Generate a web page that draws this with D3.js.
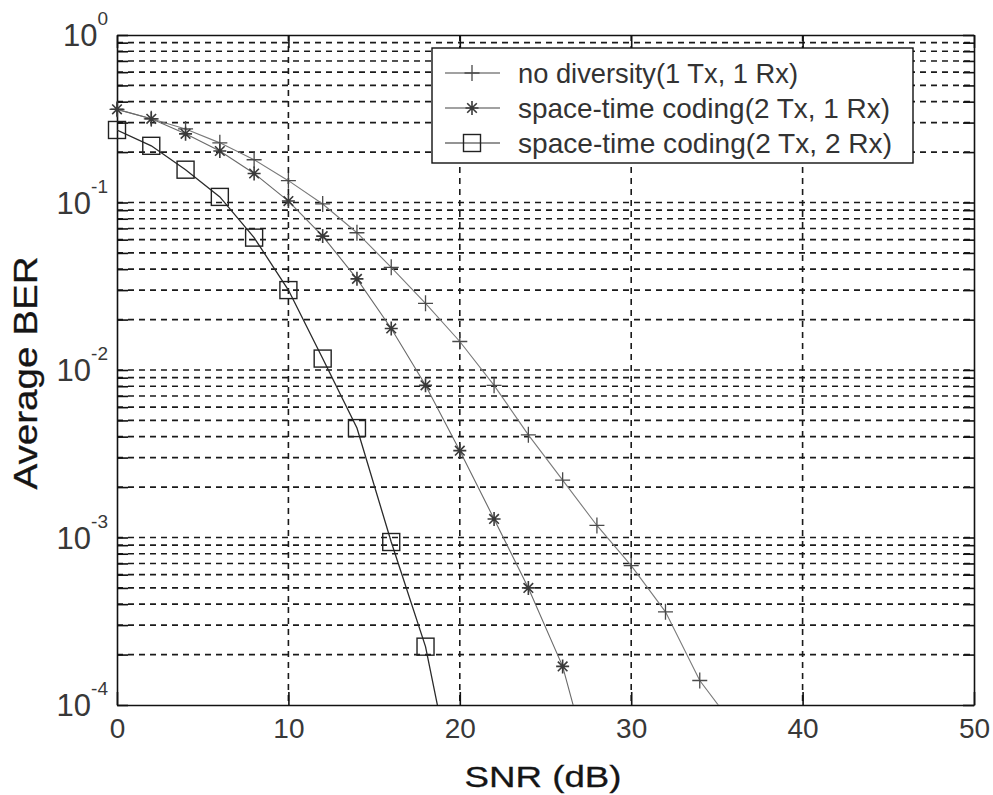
<!DOCTYPE html>
<html>
<head>
<meta charset="utf-8">
<script src="https://cdn.jsdelivr.net/npm/d3@7"></script>
<style>
  body { margin: 0; background: #fff; }
  svg { display: block; font-family: "Liberation Sans", Arial, sans-serif; }
</style>
</head>
<body>
<svg width="993" height="795"></svg>
<script>
// series data
var snrNoDiv = [0, 2, 4, 6, 8, 10, 12, 14, 16, 18, 20, 22, 24, 26, 28, 30, 32, 34, 36];
var berNoDiv = [0.36, 0.316, 0.275, 0.227, 0.18, 0.135, 0.098, 0.066, 0.041, 0.025, 0.0148,
                0.0081, 0.0041, 0.0022, 0.00118, 0.00068, 0.00036, 0.00014, 0.000075];
var snrSt21 = [0, 2, 4, 6, 8, 10, 12, 14, 16, 18, 20, 22, 24, 26, 28];
var berSt21 = [0.36, 0.316, 0.257, 0.203, 0.149, 0.102, 0.063, 0.035, 0.0177, 0.0081, 0.0033,
               0.00129, 0.0005, 0.00017, 0.00003];
var snrSt22 = [0, 2, 4, 6, 8, 10, 12, 14, 16, 18, 20];
var berSt22 = [0.271, 0.218, 0.157, 0.108, 0.0617, 0.030, 0.0117, 0.0045, 0.00094, 0.000223, 0.000022];

var seriesNames = ["no diversity(1 Tx, 1 Rx)", "space-time coding(2 Tx, 1 Rx)", "space-time coding(2 Tx, 2 Rx)"];
var xTicks = [0, 10, 20, 30, 40, 50];
var yDecades = [1, 0.1, 0.01, 0.001, 0.0001];
var yDecadeExp = ["0", "-1", "-2", "-3", "-4"];

var svg = d3.select("svg");
var margin = { top: 35, right: 19, bottom: 90, left: 117 };
var width = 993 - margin.left - margin.right;   // 857
var height = 795 - margin.top - margin.bottom;  // 670

var x = d3.scaleLinear().domain([0, 50]).range([0, width]);
var y = d3.scaleLog().domain([1e-4, 1]).range([height, 0]);

// minor log ticks 1..9 x 10^k
var yMinor = [];
for (var k = -4; k < 0; k++) {
    for (var m = 1; m <= 9; m++) yMinor.push(m * Math.pow(10, k));
}
yMinor.push(1);

var g = svg.append("g")
    .attr("transform", "translate(" + margin.left + "," + margin.top + ")");

g.append("defs").append("clipPath").attr("id", "clip")
  .append("rect").attr("width", width).attr("height", height);

// grid
g.append("g").selectAll("line")
    .data(yMinor.filter(function (v) { return v > 1e-4 && v < 1; }))
    .enter().append("line")
    .attr("x1", 0).attr("x2", width)
    .attr("y1", function (d) { return y(d); })
    .attr("y2", function (d) { return y(d); })
    .attr("stroke", "#1a1a1a")
    .attr("stroke-width", 1.6)
    .attr("stroke-dasharray", "6,5");

g.append("g").selectAll("line")
    .data(xTicks.filter(function (v) { return v > 0 && v < 50; }))
    .enter().append("line")
    .attr("y1", 0).attr("y2", height)
    .attr("x1", function (d) { return x(d); })
    .attr("x2", function (d) { return x(d); })
    .attr("stroke", "#1a1a1a")
    .attr("stroke-width", 1.6)
    .attr("stroke-dasharray", "6,5");

// axes (ticks pointing inwards)
var xAxisB = g.append("g")
    .attr("transform", "translate(0," + height + ")")
    .call(d3.axisBottom(x).tickValues(xTicks).tickSizeInner(-13).tickSizeOuter(0).tickPadding(13));
var xAxisT = g.append("g")
    .call(d3.axisTop(x).tickValues(xTicks).tickSizeInner(-13).tickSizeOuter(0).tickFormat(""));
var yAxisL = g.append("g")
    .call(d3.axisLeft(y).tickValues(yMinor).tickSizeInner(-11).tickSizeOuter(0).tickFormat(""));
var yAxisR = g.append("g")
    .attr("transform", "translate(" + width + ",0)")
    .call(d3.axisRight(y).tickValues(yMinor).tickSizeInner(-11).tickSizeOuter(0).tickFormat(""));

g.selectAll(".domain").attr("stroke", "#111").attr("stroke-width", 1.6);
g.selectAll(".tick line").attr("stroke", "#111").attr("stroke-width", 1.6);

xAxisB.selectAll("text")
    .attr("font-size", "28px")
    .attr("font-family", "'Liberation Sans', Arial, sans-serif")
    .attr("fill", "#383838");

// y labels 10^k
var yLab = g.append("g").selectAll("text")
    .data(yDecades)
    .enter().append("text")
    .attr("x", -9)
    .attr("y", function (d) { return y(d) + 11; })
    .attr("text-anchor", "end")
    .attr("font-size", "31px")
    .attr("fill", "#383838");
yLab.append("tspan").text("10");
yLab.append("tspan")
    .attr("dy", -21)
    .attr("font-size", "19px")
    .text(function (d, i) { return yDecadeExp[i]; });

// axis titles
svg.append("text")
    .attr("transform", "translate(37,373) rotate(-90)")
    .attr("text-anchor", "middle")
    .attr("font-size", "33px")
    .attr("textLength", 233)
    .attr("lengthAdjust", "spacingAndGlyphs")
    .attr("fill", "#151515")
    .attr("stroke", "#151515")
    .attr("stroke-width", 0.3)
    .text("Average BER");

svg.append("text")
    .attr("x", 543)
    .attr("y", 787)
    .attr("text-anchor", "middle")
    .attr("font-size", "30px")
    .attr("textLength", 157)
    .attr("lengthAdjust", "spacingAndGlyphs")
    .attr("fill", "#151515")
    .attr("stroke", "#151515")
    .attr("stroke-width", 0.3)
    .text("SNR (dB)");

// markers
var plusPath = "M-7.5,0H7.5M0,-8V8";
var starPath = "M-6.5,0H6.5M0,-7V7M-4.8,-4.8L4.8,4.8M-4.8,4.8L4.8,-4.8";

function addMarker(sel, type, color) {
    if (type === "square") {
        sel.append("rect")
            .attr("x", -8.5).attr("y", -8.5)
            .attr("width", 17).attr("height", 17)
            .attr("fill", "none")
            .attr("stroke", color)
            .attr("stroke-width", 1.4);
    } else {
        sel.append("path")
            .attr("d", type === "plus" ? plusPath : starPath)
            .attr("fill", "none")
            .attr("stroke", color)
            .attr("stroke-width", type === "plus" ? 1.3 : 1.6);
    }
}

var series = [
    { snr: snrNoDiv, ber: berNoDiv, marker: "plus", line: "#7a7a7a", mark: "#4a4a4a", lw: 1.1 },
    { snr: snrSt21, ber: berSt21, marker: "star", line: "#6a6a6a", mark: "#3a3a3a", lw: 1.1 },
    { snr: snrSt22, ber: berSt22, marker: "square", line: "#2a2a2a", mark: "#222", lw: 1.3 }
];

var line = d3.line()
    .x(function (d) { return x(d[0]); })
    .y(function (d) { return y(d[1]); });

series.forEach(function (s) {
    var pts = s.snr.map(function (v, i) { return [v, s.ber[i]]; });
    g.append("path")
        .datum(pts)
        .attr("clip-path", "url(#clip)")
        .attr("fill", "none")
        .attr("stroke", s.line)
        .attr("stroke-width", s.lw)
        .attr("d", line);
    g.append("g").selectAll("g")
        .data(pts.filter(function (p) { return p[1] >= 1e-4; }))
        .enter().append("g")
        .attr("transform", function (d) { return "translate(" + x(d[0]) + "," + y(d[1]) + ")"; })
        .each(function () { addMarker(d3.select(this), s.marker, s.mark); });
});

// legend
var legend = svg.append("g").attr("transform", "translate(432,48)");
legend.append("rect")
    .attr("width", 481).attr("height", 115)
    .attr("fill", "#fff")
    .attr("stroke", "#111")
    .attr("stroke-width", 1.4);

var legendLen = [280, 372, 374];
series.forEach(function (s, i) {
    var row = legend.append("g").attr("transform", "translate(0," + (25 + i * 35) + ")");
    row.append("line")
        .attr("x1", 13).attr("x2", 68)
        .attr("stroke", s.line === "#2a2a2a" ? s.line : "#444")
        .attr("stroke-width", 1.2);
    var mk = row.append("g").attr("transform", "translate(40,0)");
    addMarker(mk, s.marker, s.mark);
    row.append("text")
        .attr("x", 86)
        .attr("y", 10)
        .attr("font-size", "28px")
        .attr("textLength", legendLen[i])
        .attr("lengthAdjust", "spacingAndGlyphs")
        .attr("fill", "#333")
        .text(seriesNames[i]);
});
</script>
</body>
</html>
